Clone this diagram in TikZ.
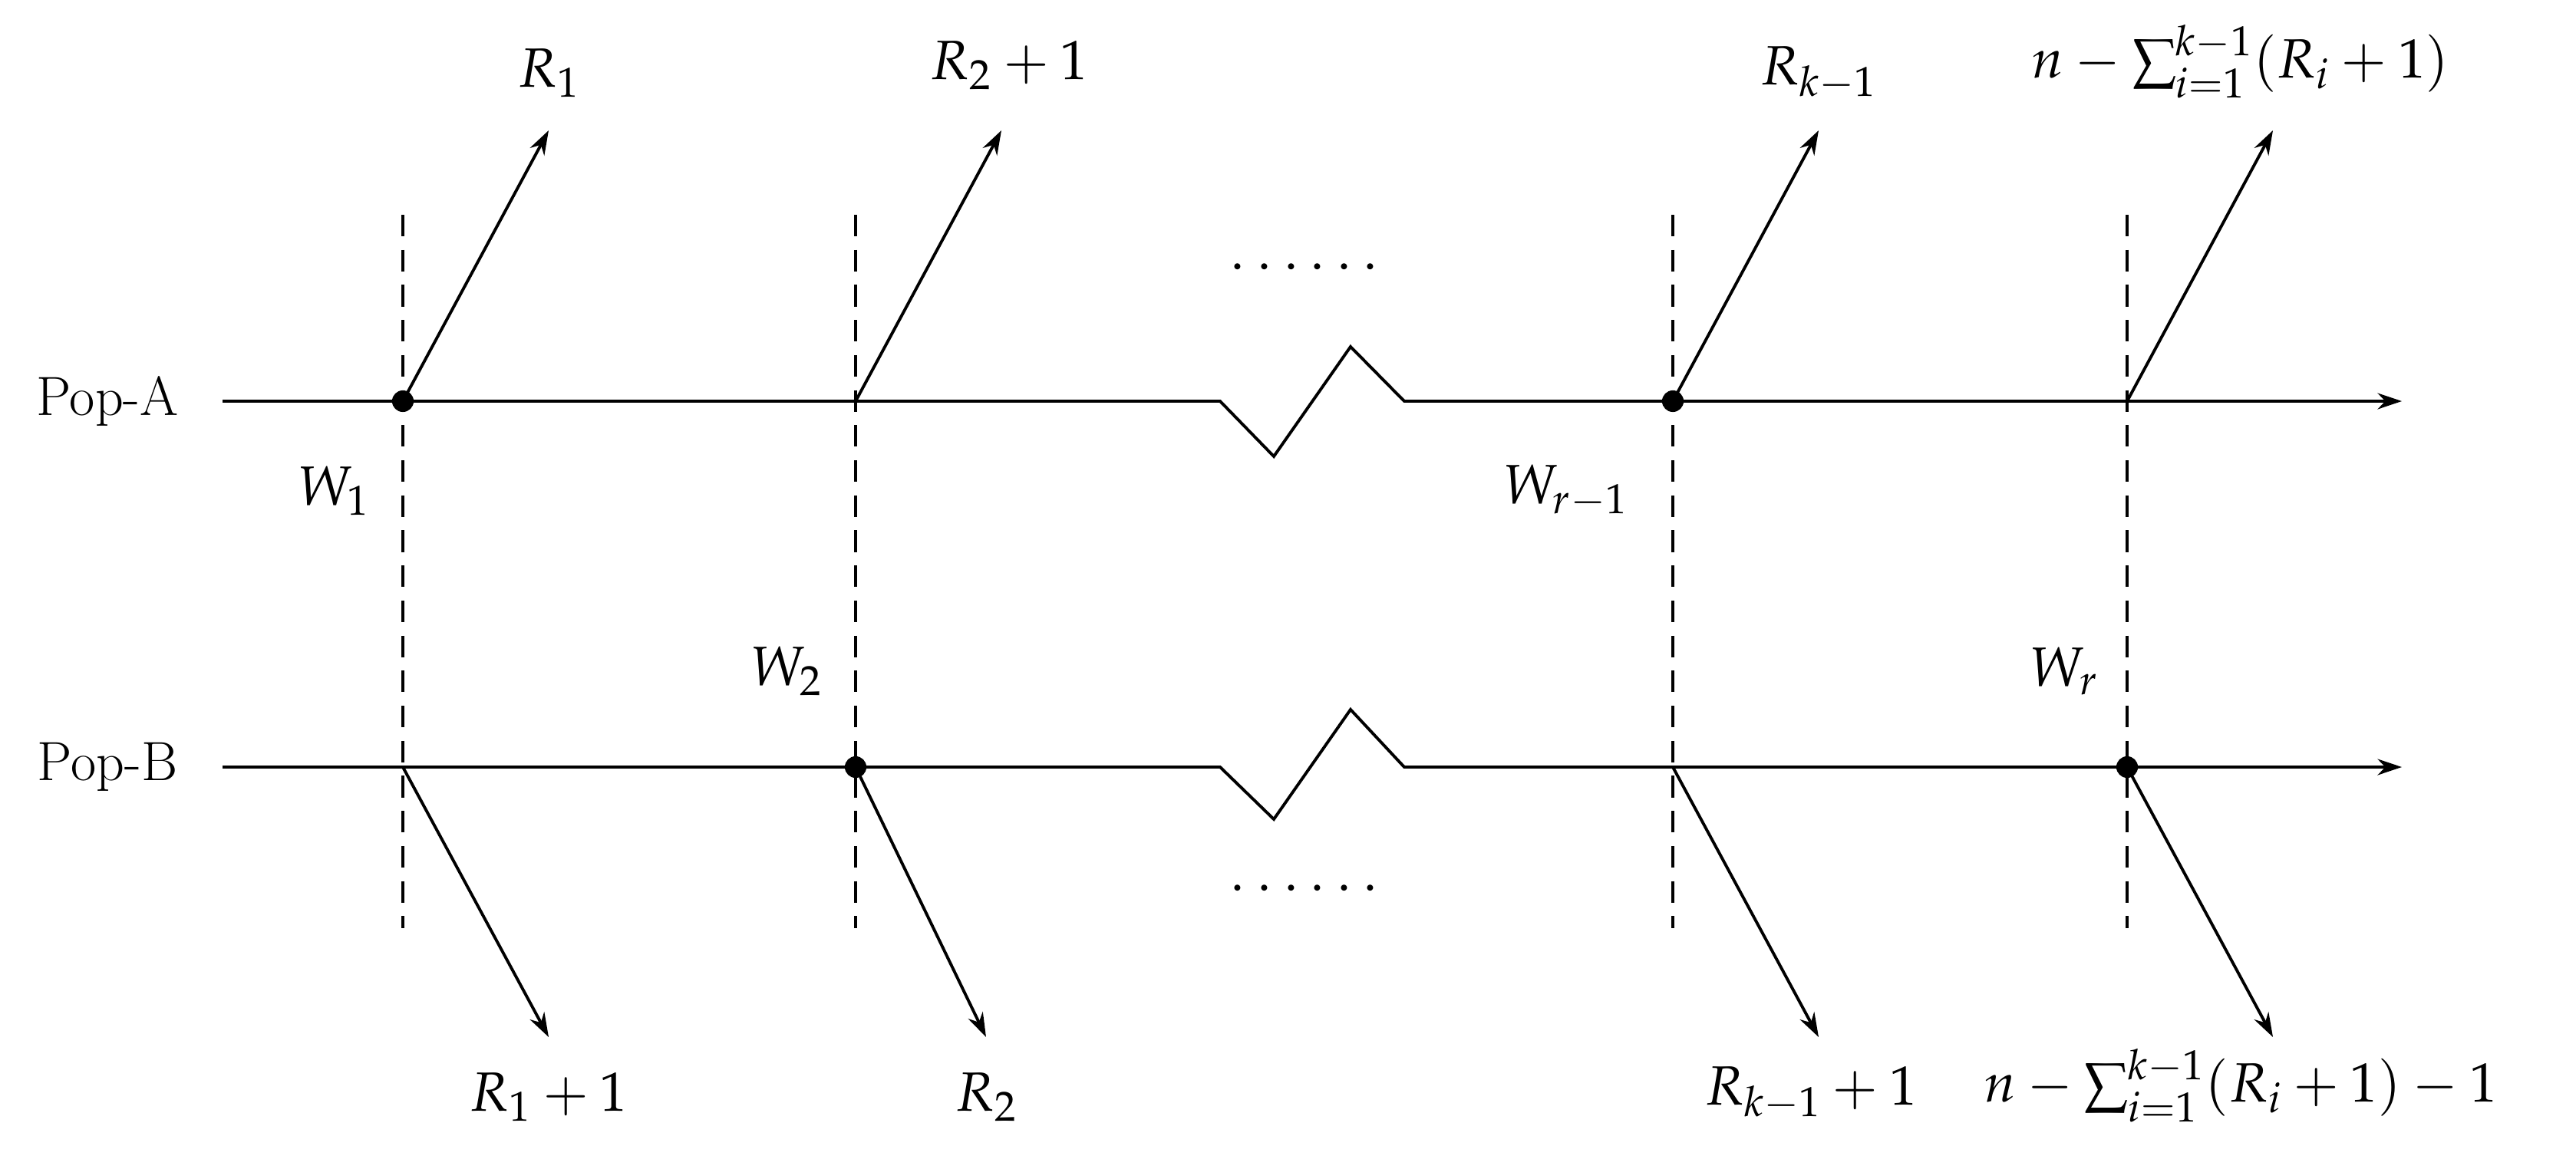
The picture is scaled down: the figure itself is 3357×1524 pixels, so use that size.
\documentclass[tikz,border=0pt]{standalone}
\usepackage{mathpazo}
\usetikzlibrary{arrows.meta}
\begin{document}
\begin{tikzpicture}[x=0.01cm,y=-0.01cm,line width=1.1pt,
  lbl/.style={font=\fontsize{20.5}{25}\selectfont,inner sep=0pt},
  dot/.style={circle,fill=black,inner sep=0pt,minimum size=8pt},
  arr/.style={-{Stealth[length=9pt,width=6pt]}},
  dsh/.style={dash pattern=on 8pt off 5pt}]
\useasboundingbox (0,0) rectangle (3357,1524);
\node[lbl] (pa) at (140,523) {Pop-A};
\node[lbl] (pb) at (140,1000) {Pop-B};
\coordinate (pas) at (290,523); \coordinate (pae) at (3130,523);
\coordinate (pbs) at (290,1000); \coordinate (pbe) at (3130,1000);
\draw[arr] (pas) -- (1590,523) -- (1660,595) -- (1760,452) -- (1830,523) -- (pae);
\draw[arr] (pbs) -- (1590,1000) -- (1660,1068) -- (1760,925) -- (1830,1000) -- (pbe);
\foreach \x in {525,1115,2180,2772} \draw[dsh] (\x,280) -- (\x,1210);
\node[dot] (a1) at (525,523) {};
\node[dot] (a3) at (2180,523) {};
\node[dot] (b2) at (1115,1000) {};
\node[dot] (b4) at (2772,1000) {};
\coordinate (a2) at (1115,523); \coordinate (a4) at (2772,523);
\coordinate (b1) at (525,1000); \coordinate (b3) at (2180,1000);
\coordinate (ta1) at (715,170); \coordinate (ta2) at (1305,170);
\coordinate (ta3) at (2370,170); \coordinate (ta4) at (2962,170);
\coordinate (tb1) at (715,1352); \coordinate (tb2) at (1285,1352);
\coordinate (tb3) at (2370,1352); \coordinate (tb4) at (2962,1352);
\draw[arr] (a1.center) -- (ta1);
\draw[arr] (a2) -- (ta2);
\draw[arr] (a3.center) -- (ta3);
\draw[arr] (a4) -- (ta4);
\draw[arr] (b1) -- (tb1);
\draw[arr] (b2.center) -- (tb2);
\draw[arr] (b3) -- (tb3);
\draw[arr] (b4.center) -- (tb4);
\node[lbl] (l1) at (715,95) {$R_1$};
\node[lbl] (l2) at (1315,85) {$R_2+1$};
\node[lbl] (l3) at (2370,95) {$R_{k-1}$};
\node[lbl] (l4) at (2920,80) {$n-\sum_{i=1}^{k-1}(R_i+1)$};
\node[lbl] (m1) at (715,1430) {$R_1+1$};
\node[lbl] (m2) at (1285,1430) {$R_2$};
\node[lbl] (m3) at (2360,1425) {$R_{k-1}+1$};
\node[lbl] (m4) at (2920,1415) {$n-\sum_{i=1}^{k-1}(R_i+1)-1$};
\node[lbl] (w1) at (435,640) {$W_1$};
\node[lbl] (w3) at (2040,640) {$W_{r-1}$};
\node[lbl] (w2) at (1025,875) {$W_2$};
\node[lbl] (w4) at (2690,875) {$W_r$};
\node[lbl] (d1) at (1700,350) {$\cdots\cdots$};
\node[lbl] (d2) at (1700,1160) {$\cdots\cdots$};
\end{tikzpicture}
\end{document}
